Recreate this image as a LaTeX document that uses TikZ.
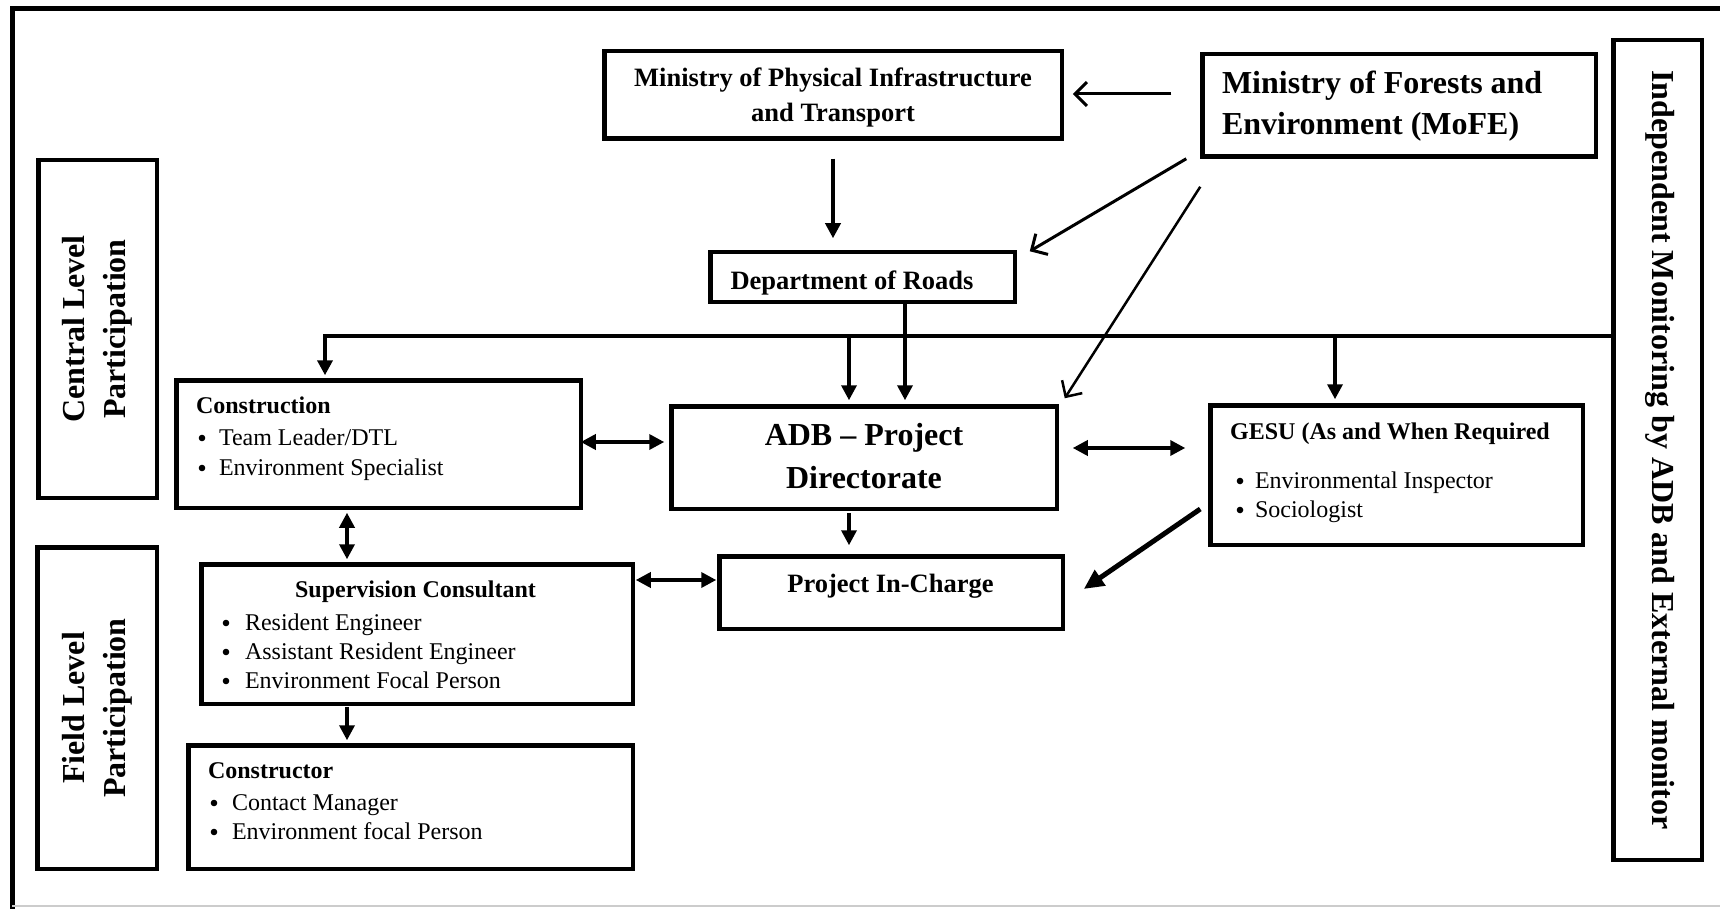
\documentclass[tikz,border=0pt]{standalone}
\usepackage{fontspec}
\setmainfont{Liberation Serif}
\usetikzlibrary{arrows.meta,calc}
\newcommand\myfs[1]{\fontsize{#1}{#1}\selectfont}
\begin{document}
\begin{tikzpicture}[x=1pt,y=-1pt,
  box/.style={draw, line width=4.5pt, inner sep=0pt, outer sep=0pt},
  txt/.style={inner sep=0pt, outer sep=0pt},
  arr/.style={line width=3.5pt, -{Triangle[length=15pt,width=15pt]}},
  darr/.style={line width=3.5pt, {Triangle[length=15pt,width=15pt]}-{Triangle[length=15pt,width=15pt]}},
  oarr/.style={line width=3pt, -{Straight Barb[length=12pt,width=24pt]}},
  bul/.style={txt, anchor=base west, font=\myfs{24}},
  hd/.style={txt, font=\bfseries\myfs{24}}]
\useasboundingbox (0,0) rectangle (1720,909);
% outer frame
\draw[line width=5pt] (12,909) -- (12,9) -- (1720,9);
\draw[gray!40, line width=1.5pt] (12,906) -- (1720,906);

% boxes
\node[box, minimum width=457.5pt, minimum height=87.5pt] (mpit) at (833,95) {};
\node[box, minimum width=393.5pt, minimum height=102.5pt] (mofe) at (1399,105.5) {};
\node[box, minimum width=88.5pt, minimum height=819.5pt] (indep) at (1657.5,450) {};
\node[box, minimum width=118.5pt, minimum height=337.5pt] (central) at (97.5,329) {};
\node[box, minimum width=119.5pt, minimum height=321.5pt] (field) at (97,708) {};
\node[box, minimum width=404.5pt, minimum height=127.5pt] (constr) at (378.5,444) {};
\node[box, minimum width=385.5pt, minimum height=102.5pt] (adb) at (864,457.5) {};
\node[box, minimum width=304.5pt, minimum height=49.5pt] (dor) at (862.5,277) {};
\node[box, minimum width=343.5pt, minimum height=72.5pt] (pic) at (891,592.5) {};
\node[box, minimum width=372.5pt, minimum height=139.5pt] (gesu) at (1396.5,475) {};
\node[box, minimum width=431.5pt, minimum height=139.5pt] (sup) at (417,634) {};
\node[box, minimum width=444.5pt, minimum height=123.5pt] (ctor) at (410.5,807) {};

% texts
\node[txt, anchor=base, font=\bfseries\myfs{26.5}] at (833,87) {Ministry of Physical Infrastructure};
\node[txt, anchor=base, font=\bfseries\myfs{26.5}] at (833,122) {and Transport};
\node[txt, anchor=base west, font=\bfseries\myfs{32}] at (1222,94) {Ministry of Forests and};
\node[txt, anchor=base west, font=\bfseries\myfs{32}] at (1222,135) {Environment (MoFE)};
\node[txt, anchor=base, font=\bfseries\myfs{26.5}] at (852,289) {Department of Roads};
\node[txt, anchor=base, font=\bfseries\myfs{32}] at (864,445) {ADB -- Project};
\node[txt, anchor=base, font=\bfseries\myfs{32}] at (864,488) {Directorate};
\node[txt, anchor=base, font=\bfseries\myfs{26.5}] at (890.5,592) {Project In-Charge};
\node[hd, anchor=base] at (1390,439) {GESU (As and When Required};
\node[bul] at (1255,488) {Environmental Inspector};
\node[bul] at (1255,517) {Sociologist};
\node[hd, anchor=base west] at (196,413) {Construction};
\node[bul] at (219,445) {Team Leader/DTL};
\node[bul] at (219,475) {Environment Specialist};
\node[hd, anchor=base] at (415.5,597) {Supervision Consultant};
\node[bul] at (245,630) {Resident Engineer};
\node[bul] at (245,659) {Assistant Resident Engineer};
\node[bul] at (245,688) {Environment Focal Person};
\node[hd, anchor=base west] at (208,778) {Constructor};
\node[bul] at (232,810) {Contact Manager};
\node[bul] at (232,839) {Environment focal Person};
\node[txt, rotate=90, align=center, font=\bfseries\fontsize{32}{41}\selectfont] at (97.5,329) {Central Level\\Participation};
\node[txt, rotate=90, align=center, font=\bfseries\fontsize{32}{41}\selectfont] at (97,708) {Field Level\\Participation};
\node[txt, rotate=-90, font=\bfseries\myfs{32}] at (1660,450) {Independent Monitoring by ADB and External monitor};

% bullets
\foreach \bx/\by in {1240/481, 1240/510, 202/438, 202/468, 226/623, 226/652, 226/681, 214/803, 214/832}
  \fill (\bx,\by) circle (3.3pt);

% connectors
\coordinate (y94) at (0,94);
\coordinate (x905) at (905,0);
\coordinate (hl) at (325,336);
\coordinate (b1) at (849,336);
\coordinate (b2) at (1335,336);
\coordinate (y442) at (0,442);
\coordinate (y448) at (0,448);
\coordinate (y580) at (0,580);
\coordinate (x347) at (347,0);

\draw[oarr, shorten <=31pt, shorten >=11pt] (mofe.west |- y94) -- (mpit.east |- y94);
\draw[arr, shorten <=20pt, shorten >=14pt] (mpit.south) -- (mpit.south |- dor.north);
\draw[oarr] ($(mofe.south west)+(-16,2)$) -- ($(dor.north east)+(15,-1)$);
\draw[oarr, line width=2.5pt] ($(mofe.south west)+(-2,30)$) -- ($(adb.north east)+(8,-8)$);
\draw[arr, shorten >=6pt] (dor.south -| x905) -- (adb.north -| x905);
\draw[arr, line width=4.5pt, shorten >=5pt] (indep.west |- hl) -- (hl) -- (hl |- constr.north);
\draw[arr, shorten >=6pt] (b1) -- (b1 |- adb.north);
\draw[arr, shorten >=6pt] (b2) -- (b2 |- gesu.north);
\draw[darr, shorten >=7pt] (constr.east |- y442) -- (adb.west |- y442);
\draw[darr, shorten <=16pt, shorten >=25pt] (adb.east |- y448) -- (gesu.west |- y448);
\draw[darr, shorten <=5pt, shorten >=5pt] (constr.south -| x347) -- (sup.north -| x347);
\draw[arr, shorten <=4pt, shorten >=11pt] (adb.south -| b1) -- (pic.north -| b1);
\draw[darr, shorten <=3pt, shorten >=3pt] (sup.east |- y580) -- (pic.west |- y580);
\draw[line width=5pt, -{Triangle[length=20pt,width=18pt]}] ($(gesu.west)+(-10,34)$) -- ($(pic.east)+(21,-3.5)$);
\draw[arr, shorten <=3pt, shorten >=5pt] (sup.south -| x347) -- (ctor.north -| x347);
\end{tikzpicture}
\end{document}
